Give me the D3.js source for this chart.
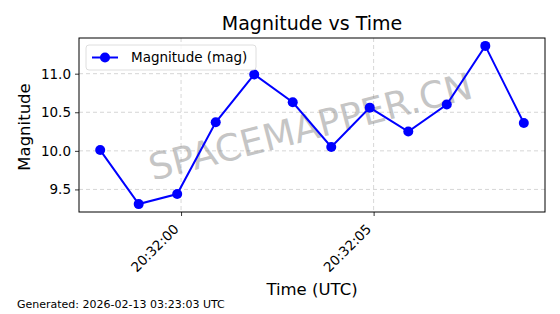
<!DOCTYPE html>
<html>
<head>
<meta charset="utf-8">
<script src="https://cdn.jsdelivr.net/npm/d3@7"></script>
<style>
  body { margin: 0; background: #fff; }
  text { font-family: "DejaVu Sans", sans-serif; }
</style>
</head>
<body>
<div id="chart"></div>
<script>
// observation times (UTC) and magnitudes
var times = ["20:31:57.9", "20:31:58.9", "20:31:59.9", "20:32:00.9", "20:32:01.9", "20:32:02.9",
             "20:32:03.9", "20:32:04.9", "20:32:05.9", "20:32:06.9", "20:32:07.9", "20:32:08.9"];
var magnitudes = [10.01, 9.31, 9.44, 10.37, 10.99, 10.63, 10.05, 10.56, 10.25, 10.60, 11.36, 10.36];
var yTicks = [9.5, 10.0, 10.5, 11.0];
var xTicks = ["20:32:00", "20:32:05"];

var width = 560, height = 314;
var margin = { left: 79, right: 15, top: 38, bottom: 102 };

var parseTime = d3.utcParse("%H:%M:%S.%L");
var parseTick = d3.utcParse("%H:%M:%S");
var fmt = d3.utcFormat("%H:%M:%S");

var data = times.map(function (t, i) { return { t: parseTime(t + "00"), v: magnitudes[i] }; });

var svg = d3.select("#chart")
    .append("svg")
    .attr("width", width)
    .attr("height", height);

var tExt = d3.extent(data, d => d.t);
var tPad = (tExt[1] - tExt[0]) * 0.05;
var x = d3.scaleUtc()
    .domain([new Date(+tExt[0] - tPad), new Date(+tExt[1] + tPad)])
    .range([margin.left, width - margin.right]);

var vExt = d3.extent(magnitudes);
var vPad = (vExt[1] - vExt[0]) * 0.05;
var y = d3.scaleLinear()
    .domain([vExt[0] - vPad, vExt[1] + vPad])
    .range([height - margin.bottom, margin.top]);

var xt = xTicks.map(parseTick);

// grid
svg.append("g").selectAll("line").data(yTicks).enter().append("line")
    .attr("x1", margin.left).attr("x2", width - margin.right)
    .attr("y1", d => y(d)).attr("y2", d => y(d))
    .style("stroke", "#cccccc").style("stroke-width", 0.8).style("stroke-dasharray", "4,3");
svg.append("g").selectAll("line").data(xt).enter().append("line")
    .attr("x1", d => x(d)).attr("x2", d => x(d))
    .attr("y1", margin.top).attr("y2", height - margin.bottom)
    .style("stroke", "#cccccc").style("stroke-width", 0.8).style("stroke-dasharray", "4,3");

// watermark
svg.append("text")
    .attr("transform", "translate(311,129) rotate(-14.5)")
    .attr("text-anchor", "middle")
    .attr("dominant-baseline", "middle")
    .style("font-size", "37px")
    .style("fill", "#808080")
    .style("opacity", 0.45)
    .text("SPACEMAPPER.CN");

// axes
var xAxis = svg.append("g")
    .attr("transform", `translate(0,${height - margin.bottom})`)
    .call(d3.axisBottom(x).tickValues(xt).tickFormat(fmt).tickSize(4).tickPadding(3));
xAxis.selectAll("text")
    .style("font-size", "13.5px")
    .attr("text-anchor", "end")
    .attr("dy", null)
    .attr("transform", "translate(-2,18) rotate(-45)")
    .attr("y", 0).attr("x", 0);

var yAxis = svg.append("g")
    .attr("transform", `translate(${margin.left},0)`)
    .call(d3.axisLeft(y).tickValues(yTicks).tickFormat(d3.format(".1f")).tickSize(4).tickPadding(4));
yAxis.selectAll("text").style("font-size", "13.5px");

[xAxis, yAxis].forEach(function (a) {
    a.select(".domain").remove();
    a.selectAll("line").style("stroke", "#000").style("stroke-width", 0.8);
    a.selectAll("text").style("fill", "#000").style("font-family", "DejaVu Sans");
});

// frame
svg.append("rect")
    .attr("x", margin.left).attr("y", margin.top)
    .attr("width", width - margin.left - margin.right)
    .attr("height", height - margin.top - margin.bottom)
    .style("fill", "none").style("stroke", "#000").style("stroke-width", 1);

// series
var line = d3.line().x(d => x(d.t)).y(d => y(d.v));
svg.append("path")
    .datum(data)
    .attr("d", line)
    .style("fill", "none").style("stroke", "#0000ff").style("stroke-width", 2);
svg.append("g").selectAll("circle").data(data).enter().append("circle")
    .attr("cx", d => x(d.t)).attr("cy", d => y(d.v)).attr("r", 5)
    .style("fill", "#0000ff");

// legend
var lg = svg.append("g").attr("transform", "translate(86,45)");
lg.append("rect").attr("width", 170).attr("height", 25).attr("rx", 3)
    .style("fill", "#fff").style("fill-opacity", 0.8).style("stroke", "#d5d5d5").style("stroke-width", 0.8);
lg.append("line").attr("x1", 6).attr("x2", 32).attr("y1", 12.5).attr("y2", 12.5)
    .style("stroke", "#0000ff").style("stroke-width", 2);
lg.append("circle").attr("cx", 19).attr("cy", 12.5).attr("r", 5).style("fill", "#0000ff");
lg.append("text").attr("x", 45).attr("y", 12.5).attr("dy", "0.35em")
    .style("font-size", "13.5px").text("Magnitude (mag)");

// titles
svg.append("text").attr("x", 312).attr("y", 30).attr("text-anchor", "middle")
    .style("font-size", "19px").text("Magnitude vs Time");
svg.append("text").attr("x", 312).attr("y", 295).attr("text-anchor", "middle")
    .style("font-size", "16.5px").text("Time (UTC)");
svg.append("text").attr("transform", "translate(30,127) rotate(-90)").attr("text-anchor", "middle")
    .style("font-size", "16.5px").text("Magnitude");
svg.append("text").attr("x", 17).attr("y", 308)
    .style("font-size", "11px").text("Generated: 2026-02-13 03:23:03 UTC");
</script>
</body>
</html>
